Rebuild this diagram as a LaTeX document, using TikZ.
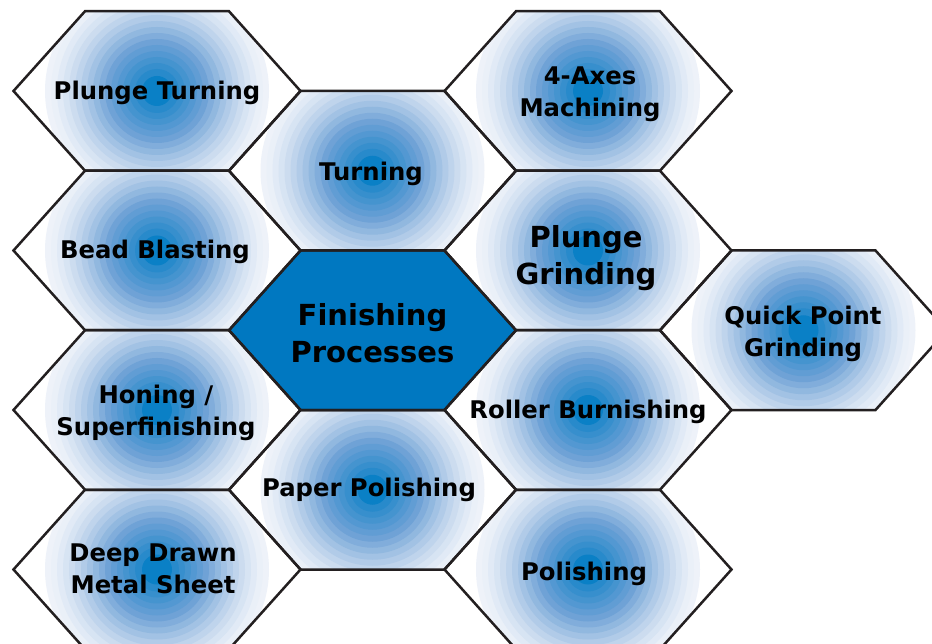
\documentclass[tikz,border=0pt]{standalone}
\usepackage{fontspec}
\setmainfont{DejaVu Sans}
\usetikzlibrary{positioning}
\definecolor{hxink}  {HTML}{231F20}
\definecolor{hxcore} {HTML}{0A80C6}
\definecolor{hxmid}  {HTML}{6FA2D6}
\definecolor{hxmist} {HTML}{EEF2F9}
\definecolor{hxhub}  {HTML}{0078C1}
\tikzset{
  hxedge/.style={draw=hxink, line width=2.5pt, line join=miter},
  hxtext/.style={align=center, inner sep=0pt, text=black,
                 font=\bfseries\fontsize{24.3}{32}\selectfont},
  hxbig/.style={hxtext, font=\bfseries\fontsize{29}{37}\selectfont},
}
% flat-topped, stretched hexagon round (#1,#2)
\newcommand\hexat[2]{(#1-143.5,#2) -- (#1-72,#2-79.75) -- (#1+72,#2-79.75)
  -- (#1+143.5,#2) -- (#1+72,#2+79.75) -- (#1-72,#2+79.75) -- cycle}

\begin{document}
\begin{tikzpicture}[x=1pt,y=-1pt]
  \useasboundingbox (0,0) rectangle (932,644);
  \clip (0,0) rectangle (932,644);

  % glowing cells
  \foreach \cx/\cy in {157/91, 157/250.5, 157/410, 157/569.5,
                       372.5/170.75, 372.5/489.75,
                       588/91, 588/250.5, 588/410, 588/569.5,
                       803.5/330.25} {
    \begin{scope}
      \clip \hexat{\cx}{\cy};
      \fill[white] \hexat{\cx}{\cy};
      \foreach \k in {0,...,15} {
        \pgfmathsetmacro\rr{112-6*\k}
        \ifnum\k<11
          \pgfmathtruncatemacro\p{100*(\k/10)^1.4}
          \fill[hxmid!\p!hxmist] (\cx,\cy) circle (\rr);
        \else
          \pgfmathtruncatemacro\p{(\k-10)*14}
          \fill[hxcore!\p!hxmid] (\cx,\cy) circle (\rr);
        \fi
      }
      \fill[hxcore] (\cx,\cy) circle (15);
    \end{scope}
  }
  % hub
  \fill[hxhub] \hexat{372.5}{330.25};

  % outlines
  \foreach \cx/\cy in {157/91, 157/250.5, 157/410, 157/569.5,
                       372.5/170.75, 372.5/330.25, 372.5/489.75,
                       588/91, 588/250.5, 588/410, 588/569.5,
                       803.5/330.25}
    \draw[hxedge] \hexat{\cx}{\cy};

  % labels
  \node[hxbig]  (hub)        at (372.5,333) {Finishing\\Processes};
  \node[hxtext] (plungeturn) at (157,93)    {Plunge Turning};
  \node[hxtext] (bead)       at (155,252)   {Bead Blasting};
  \node[hxtext] (honing)     at (156,413)   {Honing /\\Superfinishing};
  \node[hxtext] (deepdrawn)  at (153,569)   {Deep Drawn\\Metal Sheet};
  \node[hxtext] (turning)    at (371,174)   {Turning};
  \node[hxtext] (paper)      at (369,490)   {Paper Polishing};
  \node[hxtext] (fouraxes)   at (590,94)    {4-Axes\\Machining};
  \node[hxbig]  (plungegrind) at (586,258)  {Plunge\\Grinding};
  \node[hxtext] (roller)     at (588,412)   {Roller Burnishing};
  \node[hxtext] (polishing)  at (584,574)   {Polishing};
  \node[hxtext] (quickpoint) at (803,334)   {Quick Point\\Grinding};
\end{tikzpicture}
\end{document}
